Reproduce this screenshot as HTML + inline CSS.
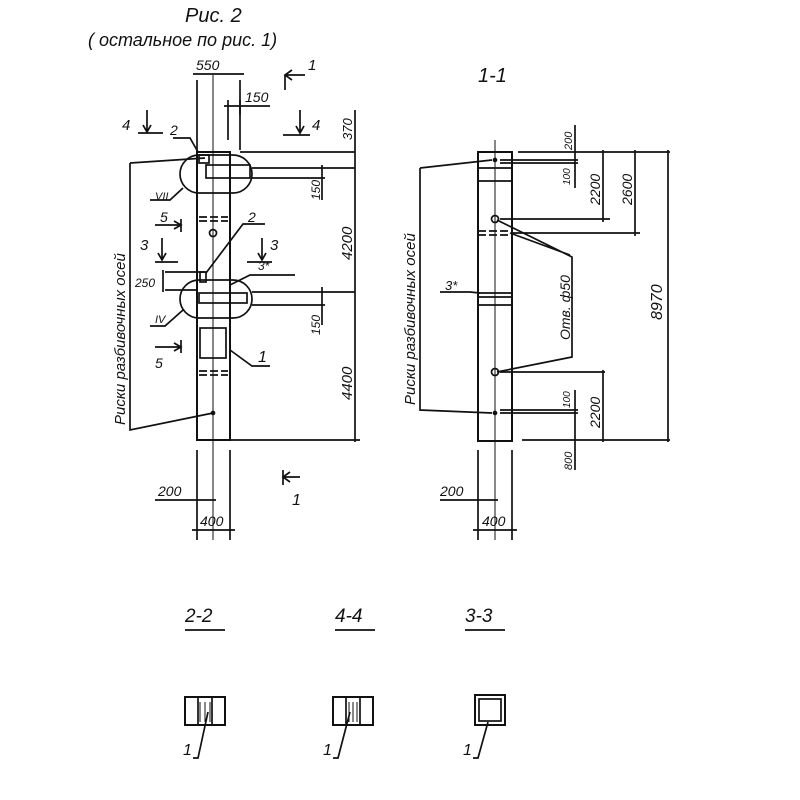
<!DOCTYPE html>
<html><head><meta charset="utf-8"><style>
html,body{margin:0;padding:0;background:#fff;}
svg{display:block;}
text{font-family:"Liberation Sans",sans-serif;font-style:italic;fill:#111;}
</style></head><body>
<svg width="800" height="800" viewBox="0 0 800 800" stroke="#111" fill="none" stroke-width="1.7">
<text x="185" y="22" font-size="20" stroke="none">Рис. 2</text>
<text x="88" y="46" font-size="18" stroke="none">( остальное по рис. 1)</text>

<!-- LEFT column -->
<rect x="197" y="152" width="33" height="288" stroke-width="2"/>
<line x1="213" y1="75" x2="213" y2="540" stroke-width="1"/>
<line x1="197" y1="80" x2="197" y2="152"/><line x1="240" y1="80" x2="240" y2="115"/>
<line x1="193" y1="74" x2="244" y2="74"/>
<text x="196" y="70" font-size="14" stroke="none">550</text>
<line x1="228" y1="100" x2="228" y2="140"/><line x1="240" y1="100" x2="240" y2="150"/>
<line x1="224" y1="106" x2="270" y2="106"/>
<text x="245" y="102" font-size="14" stroke="none">150</text>
<path d="M285 90 V75 M285 75 H305 M292 70 l-7 5 7 5"/><text x="308" y="70" font-size="15" stroke="none">1</text>
<path d="M138 133 H163 M147 110 V132 M143 125 l4 7 4-7"/><text x="122" y="130" font-size="15" stroke="none">4</text>
<path d="M283 135 H310 M300 110 V133 M296 126 l4 7 4-7"/><text x="312" y="130" font-size="15" stroke="none">4</text>
<text x="170" y="135" font-size="14" stroke="none">2</text>
<path d="M173 138 L190 138 L198 152"/>
<rect x="180" y="155" width="72" height="38" rx="19"/>
<rect x="206" y="165" width="44" height="13"/>
<rect x="199" y="155" width="10" height="8"/>
<line x1="240" y1="152" x2="355" y2="152"/>
<line x1="252" y1="168" x2="355" y2="168"/>
<line x1="252" y1="178" x2="325" y2="178"/>
<text x="155" y="200" font-size="11" stroke="none">VII</text>
<path d="M150 200 H170 L183 188"/>
<path d="M199 217 H228 M199 221 H228" stroke-dasharray="8 3"/>
<circle cx="213" cy="233" r="3.5"/>
<path d="M199 371 H228 M199 375 H228" stroke-dasharray="8 3"/>
<path d="M155 225 H180 M181 219 V232 M174 221 l7 4 -7 4"/><text x="160" y="222" font-size="14" stroke="none">5</text>
<path d="M155 262 H178 M162 238 V260 M158 253 l4 7 4-7"/><text x="140" y="250" font-size="15" stroke="none">3</text>
<path d="M247 262 H272 M262 238 V260 M258 253 l4 7 4-7"/><text x="270" y="250" font-size="15" stroke="none">3</text>
<path d="M155 347 H180 M181 340 V353 M174 343 l7 4 -7 4"/><text x="155" y="368" font-size="14" stroke="none">5</text>
<text x="248" y="222" font-size="14" stroke="none">2</text>
<path d="M265 224 H243 L206 273"/>
<text x="258" y="270" font-size="12" stroke="none">3*</text>
<path d="M295 275 H250 L230 285"/>
<line x1="165" y1="272" x2="205" y2="272"/><line x1="165" y1="290" x2="197" y2="290"/>
<line x1="163" y1="270" x2="163" y2="292"/>
<text x="135" y="287" font-size="12" stroke="none">250</text>
<rect x="200" y="272" width="6" height="10"/>
<rect x="180" y="280" width="72" height="38" rx="19"/>
<rect x="199" y="293" width="48" height="10"/>
<line x1="252" y1="292" x2="355" y2="292"/>
<line x1="252" y1="305" x2="325" y2="305"/>
<text x="155" y="323" font-size="11" stroke="none">IV</text>
<path d="M150 326 H165 L183 310"/>
<rect x="200" y="328" width="26" height="30"/>
<text x="258" y="362" font-size="16" stroke="none">1</text>
<path d="M270 366 H252 L230 350"/>
<path d="M130 163 L205 158 M130 163 V430 L213 413"/>
<circle cx="213" cy="413" r="1.5" fill="#111"/>
<text transform="translate(125 425) rotate(-90)" font-size="15" stroke="none">Риски разбивочных осей</text>
<line x1="230" y1="440" x2="360" y2="440"/>
<line x1="355" y1="110" x2="355" y2="442"/>
<line x1="322" y1="165" x2="322" y2="200"/><line x1="322" y1="287" x2="322" y2="325"/>
<text transform="translate(352 140) rotate(-90)" font-size="13" stroke="none">370</text>
<text transform="translate(320 200) rotate(-90)" font-size="12" stroke="none">150</text>
<text transform="translate(352 260) rotate(-90)" font-size="15" stroke="none">4200</text>
<text transform="translate(320 335) rotate(-90)" font-size="12" stroke="none">150</text>
<text transform="translate(352 400) rotate(-90)" font-size="15" stroke="none">4400</text>
<line x1="197" y1="450" x2="197" y2="540"/><line x1="230" y1="450" x2="230" y2="540"/>
<line x1="155" y1="500" x2="216" y2="500"/>
<text x="158" y="496" font-size="14" stroke="none">200</text>
<line x1="192" y1="530" x2="235" y2="530"/>
<text x="200" y="526" font-size="14" stroke="none">400</text>
<path d="M283 470 V485 M283 477 H300 M290 472 l-7 5 7 5"/><text x="292" y="505" font-size="16" stroke="none">1</text>

<!-- RIGHT view -->
<text x="478" y="82" font-size="20" stroke="none">1-1</text>
<rect x="478" y="152" width="34" height="289" stroke-width="2"/>
<line x1="495" y1="140" x2="495" y2="540" stroke-width="1"/>
<line x1="478" y1="168" x2="512" y2="168"/><line x1="478" y1="181" x2="512" y2="181"/>
<path d="M478 231 H512 M478 235 H512" stroke-dasharray="8 3"/>
<line x1="478" y1="293" x2="512" y2="293"/><line x1="478" y1="297" x2="512" y2="297"/><line x1="478" y1="305" x2="512" y2="305"/>
<circle cx="495" cy="219" r="3.5"/><circle cx="495" cy="372" r="3.5"/>
<circle cx="495" cy="160" r="1.5" fill="#111"/><circle cx="495" cy="413" r="1.5" fill="#111"/>
<path d="M420 168 L492 160 M420 168 V410 L492 413"/>
<text transform="translate(415 405) rotate(-90)" font-size="15" stroke="none">Риски разбивочных осей</text>
<text x="445" y="290" font-size="13" stroke="none">3*</text>
<path d="M440 292 H470 L480 293"/>
<path d="M497 220 L572 257 V357 L497 372 M510 233 L570 255"/>
<text transform="translate(570 340) rotate(-90)" font-size="14" stroke="none">Отв. ф50</text>
<line x1="518" y1="152" x2="670" y2="152"/><line x1="500" y1="160" x2="578" y2="160"/>
<line x1="500" y1="163" x2="578" y2="163"/>
<line x1="500" y1="219" x2="610" y2="219"/><line x1="512" y1="233" x2="640" y2="233"/>
<line x1="500" y1="372" x2="605" y2="372"/>
<line x1="500" y1="410" x2="578" y2="410"/><line x1="500" y1="413" x2="578" y2="413"/>
<line x1="522" y1="440" x2="670" y2="440"/>
<line x1="575" y1="125" x2="575" y2="188"/><line x1="575" y1="390" x2="575" y2="470"/>
<line x1="603" y1="150" x2="603" y2="222"/><line x1="603" y1="370" x2="603" y2="442"/>
<line x1="635" y1="150" x2="635" y2="236"/><line x1="668" y1="150" x2="668" y2="442"/>
<text transform="translate(572 150) rotate(-90)" font-size="11" stroke="none">200</text>
<text transform="translate(570 185) rotate(-90)" font-size="10" stroke="none">100</text>
<text transform="translate(600 205) rotate(-90)" font-size="14" stroke="none">2200</text>
<text transform="translate(632 205) rotate(-90)" font-size="14" stroke="none">2600</text>
<text transform="translate(662 320) rotate(-90)" font-size="16" stroke="none">8970</text>
<text transform="translate(570 408) rotate(-90)" font-size="10" stroke="none">100</text>
<text transform="translate(600 428) rotate(-90)" font-size="14" stroke="none">2200</text>
<text transform="translate(572 470) rotate(-90)" font-size="11" stroke="none">800</text>
<line x1="478" y1="450" x2="478" y2="540"/><line x1="512" y1="450" x2="512" y2="540"/>
<line x1="440" y1="500" x2="498" y2="500"/>
<text x="440" y="496" font-size="14" stroke="none">200</text>
<line x1="473" y1="530" x2="517" y2="530"/>
<text x="482" y="526" font-size="14" stroke="none">400</text>

<!-- sections -->
<text x="185" y="622" font-size="19" stroke="none">2-2</text>
<line x1="185" y1="630" x2="225" y2="630"/>
<text x="335" y="622" font-size="19" stroke="none">4-4</text>
<line x1="335" y1="630" x2="375" y2="630"/>
<text x="465" y="622" font-size="19" stroke="none">3-3</text>
<line x1="465" y1="630" x2="505" y2="630"/>
<rect x="185" y="697" width="40" height="28" stroke-width="2"/>
<line x1="198" y1="697" x2="198" y2="725"/><line x1="212" y1="697" x2="212" y2="725"/>
<path d="M200 702 V722 M205 702 V722 M210 702 V722" stroke-width="1"/>
<rect x="333" y="697" width="40" height="28" stroke-width="2"/>
<line x1="346" y1="697" x2="346" y2="725"/><line x1="360" y1="697" x2="360" y2="725"/>
<path d="M349 702 V722 M353 702 V722 M357 702 V722" stroke-width="1"/>
<rect x="475" y="695" width="30" height="30" stroke-width="2"/>
<rect x="479" y="699" width="22" height="22"/>
<text x="183" y="755" font-size="16" stroke="none">1</text><path d="M193 758 H198 L208 712"/>
<text x="323" y="755" font-size="16" stroke="none">1</text><path d="M333 758 H338 L350 712"/>
<text x="463" y="755" font-size="16" stroke="none">1</text><path d="M473 758 H478 L488 722"/>
</svg>
</body></html>
